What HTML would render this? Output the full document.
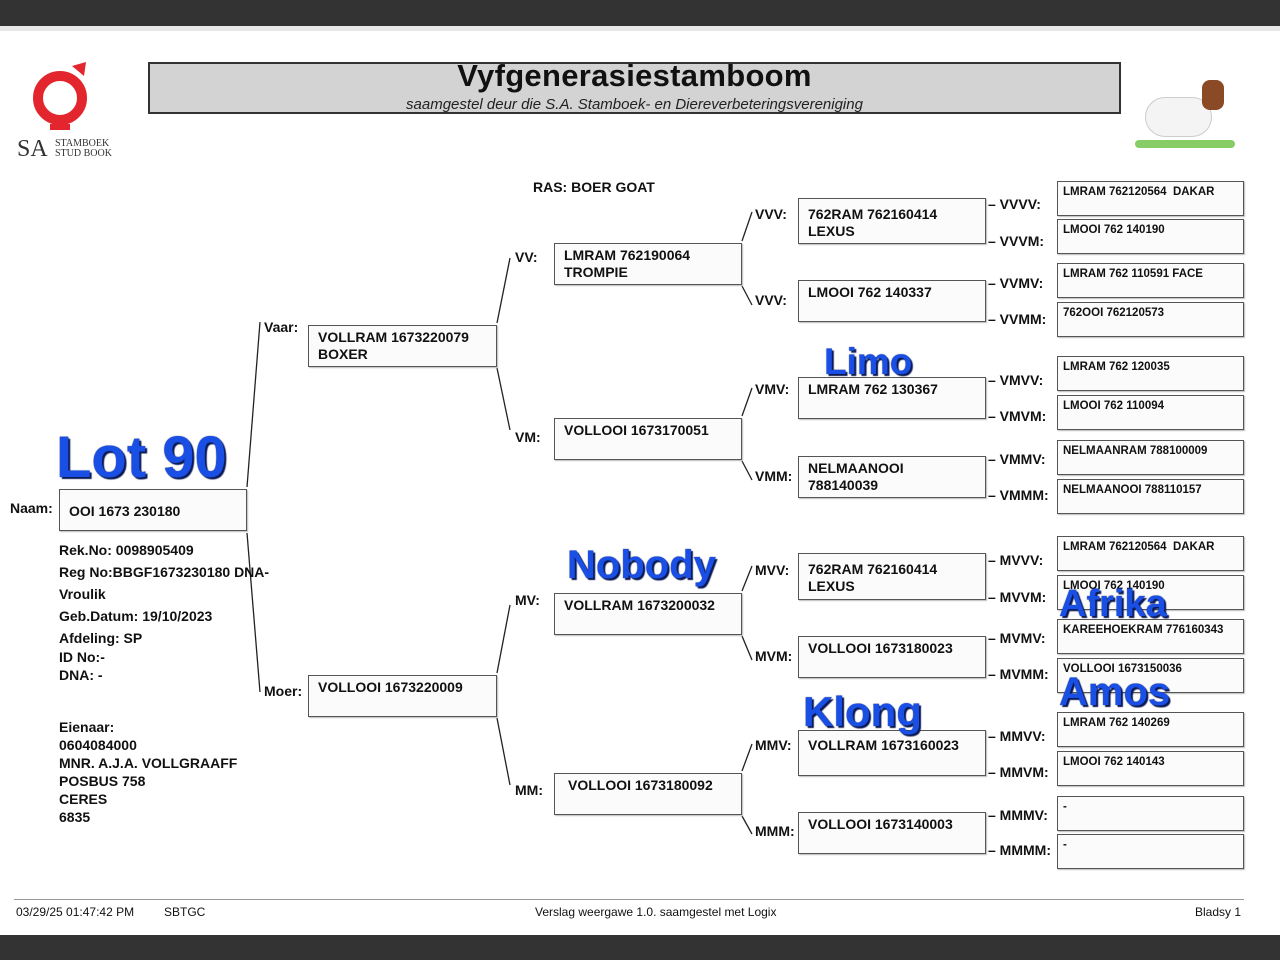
<!DOCTYPE html>
<html><head><meta charset="utf-8"><style>
body{margin:0;width:1280px;height:960px;background:#fff;position:relative;overflow:hidden;font-family:"Liberation Sans",Arial,sans-serif;color:#111}
div,span{position:absolute}
.b{border:1px solid #555;background:#fbfbfb;box-sizing:border-box;font-weight:bold;font-size:14px;line-height:17px;padding:3px 9px;box-shadow:1px 1px 1px #bbb}
.s{font-size:11.5px;line-height:14px;padding:3px 5px}
.l{font-weight:bold;font-size:14px;white-space:nowrap}
.t{font-weight:bold;font-size:14px;line-height:22px;white-space:nowrap}
.o{color:#1a4fe6;font-weight:bold;text-shadow:2px 2px 1px #0b1a55,0 0 1px #0b1a55;white-space:nowrap}
</style></head><body>
<div style="left:0;top:0;width:1280px;height:26px;background:#333"></div>
<div style="left:0;top:26px;width:1280px;height:5px;background:#e8e8e8"></div>
<div style="left:0;top:935px;width:1280px;height:25px;background:#333"></div>

<svg style="position:absolute;left:0;top:0" width="1280" height="960">
<g fill="#e3262d"><circle cx="60" cy="98" r="22" fill="none" stroke="#e3262d" stroke-width="10"/><rect x="55" y="118" width="10" height="12"/><rect x="50" y="124" width="20" height="6"/><polygon points="72,66 86,62 84,76"/></g>
<g stroke="#222" stroke-width="1.3">
<line x1="247" y1="487" x2="260" y2="322"/><line x1="247" y1="533" x2="260" y2="692"/>
<line x1="497" y1="323" x2="510" y2="258"/><line x1="497" y1="368" x2="510" y2="430"/>
<line x1="497" y1="673" x2="510" y2="605"/><line x1="497" y1="718" x2="510" y2="785"/>
<line x1="742" y1="241" x2="752" y2="212"/><line x1="742" y1="286" x2="752" y2="305"/>
<line x1="742" y1="416" x2="752" y2="388"/><line x1="742" y1="461" x2="752" y2="480"/>
<line x1="742" y1="591" x2="752" y2="566"/><line x1="742" y1="636" x2="752" y2="660"/>
<line x1="742" y1="771" x2="752" y2="744"/><line x1="742" y1="816" x2="752" y2="834"/>
</g></svg>
<div style="left:17px;top:136px;font-family:'Liberation Serif',serif;font-size:24px;color:#333">SA</div>
<div style="left:55px;top:139px;font-family:'Liberation Serif',serif;font-size:10px;line-height:10px;color:#333">STAMBOEK<br>STUD BOOK</div>

<div style="left:148px;top:62px;width:973px;height:52px;background:#d3d3d3;border:2px solid #333;box-sizing:border-box"></div>
<div style="left:148px;top:58px;width:973px;text-align:center;font-size:31px;font-weight:bold;letter-spacing:0.3px">Vyfgenerasiestamboom</div>
<div style="left:148px;top:96px;width:973px;text-align:center;font-size:15px;font-style:italic;color:#222">saamgestel deur die S.A. Stamboek- en Diereverbeteringsvereniging</div>
<div style="left:1130px;top:72px;width:110px;height:80px">
<div style="left:15px;top:25px;width:65px;height:38px;background:#f4f4f4;border-radius:20px;border:1px solid #ccc"></div>
<div style="left:72px;top:8px;width:22px;height:30px;background:#8a4a25;border-radius:8px"></div>
<div style="left:5px;top:68px;width:100px;height:8px;background:#8c6;border-radius:4px"></div></div>

<div class="l" style="left:533px;top:179px">RAS: BOER GOAT</div>

<div class="l" style="left:10px;top:500px">Naam:</div>
<div class="b" style="left:59px;top:489px;width:188px;height:42px;padding-top:13px">OOI 1673 230180</div>
<div class="t" style="left:59px;top:539px">Rek.No: 0098905409<br>Reg No:BBGF1673230180 DNA-<br>Vroulik<br>Geb.Datum: 19/10/2023<br>Afdeling: SP</div>
<div class="t" style="left:59px;top:648px;line-height:18px">ID No:-<br>DNA: -</div>
<div class="t" style="left:59px;top:718px;line-height:18px">Eienaar:<br>0604084000<br>MNR. A.J.A. VOLLGRAAFF<br>POSBUS 758<br>CERES<br>6835</div>

<div class="l" style="left:264px;top:319px">Vaar:</div>
<div class="b" style="left:308px;top:325px;width:189px;height:42px">VOLLRAM 1673220079<br>BOXER</div>
<div class="l" style="left:264px;top:683px">Moer:</div>
<div class="b" style="left:308px;top:675px;width:189px;height:42px">VOLLOOI 1673220009</div>

<div class="l" style="left:515px;top:249px">VV:</div>
<div class="b" style="left:554px;top:243px;width:188px;height:42px">LMRAM 762190064<br>TROMPIE</div>
<div class="l" style="left:515px;top:429px">VM:</div>
<div class="b" style="left:554px;top:418px;width:188px;height:42px">VOLLOOI 1673170051</div>
<div class="l" style="left:515px;top:592px">MV:</div>
<div class="b" style="left:554px;top:593px;width:188px;height:42px">VOLLRAM 1673200032</div>
<div class="l" style="left:515px;top:782px">MM:</div>
<div class="b" style="left:554px;top:773px;width:188px;height:42px;padding-left:13px">VOLLOOI 1673180092</div>

<div class="l" style="left:755px;top:206px">VVV:</div>
<div class="b" style="left:798px;top:198px;width:188px;height:46px;padding-top:7px">762RAM 762160414<br>LEXUS</div>
<div class="l" style="left:755px;top:292px">VVV:</div>
<div class="b" style="left:798px;top:280px;width:188px;height:42px">LMOOI 762 140337</div>
<div class="l" style="left:755px;top:381px">VMV:</div>
<div class="b" style="left:798px;top:377px;width:188px;height:42px">LMRAM 762 130367</div>
<div class="l" style="left:755px;top:468px">VMM:</div>
<div class="b" style="left:798px;top:456px;width:188px;height:42px">NELMAANOOI<br>788140039</div>
<div class="l" style="left:755px;top:562px">MVV:</div>
<div class="b" style="left:798px;top:553px;width:188px;height:47px;padding-top:7px">762RAM 762160414<br>LEXUS</div>
<div class="l" style="left:755px;top:648px">MVM:</div>
<div class="b" style="left:798px;top:636px;width:188px;height:42px">VOLLOOI 1673180023</div>
<div class="l" style="left:755px;top:737px">MMV:</div>
<div class="b" style="left:798px;top:730px;width:188px;height:46px;padding-top:6px">VOLLRAM 1673160023</div>
<div class="l" style="left:755px;top:823px">MMM:</div>
<div class="b" style="left:798px;top:812px;width:188px;height:42px">VOLLOOI 1673140003</div>

<div class="l" style="left:988px;top:196px">– VVVV:</div>
<div class="l" style="left:988px;top:233px">– VVVM:</div>
<div class="l" style="left:988px;top:275px">– VVMV:</div>
<div class="l" style="left:988px;top:311px">– VVMM:</div>
<div class="l" style="left:988px;top:372px">– VMVV:</div>
<div class="l" style="left:988px;top:408px">– VMVM:</div>
<div class="l" style="left:988px;top:451px">– VMMV:</div>
<div class="l" style="left:988px;top:487px">– VMMM:</div>
<div class="l" style="left:988px;top:552px">– MVVV:</div>
<div class="l" style="left:988px;top:589px">– MVVM:</div>
<div class="l" style="left:988px;top:630px">– MVMV:</div>
<div class="l" style="left:988px;top:666px">– MVMM:</div>
<div class="l" style="left:988px;top:728px">– MMVV:</div>
<div class="l" style="left:988px;top:764px">– MMVM:</div>
<div class="l" style="left:988px;top:807px">– MMMV:</div>
<div class="l" style="left:988px;top:842px">– MMMM:</div>

<div class="b s" style="left:1057px;top:181px;width:187px;height:35px">LMRAM 762120564&nbsp; DAKAR</div>
<div class="b s" style="left:1057px;top:219px;width:187px;height:35px">LMOOI 762 140190</div>
<div class="b s" style="left:1057px;top:263px;width:187px;height:35px">LMRAM 762 110591 FACE</div>
<div class="b s" style="left:1057px;top:302px;width:187px;height:35px">762OOI 762120573</div>
<div class="b s" style="left:1057px;top:356px;width:187px;height:35px">LMRAM 762 120035</div>
<div class="b s" style="left:1057px;top:395px;width:187px;height:35px">LMOOI 762 110094</div>
<div class="b s" style="left:1057px;top:440px;width:187px;height:35px">NELMAANRAM 788100009</div>
<div class="b s" style="left:1057px;top:479px;width:187px;height:35px">NELMAANOOI 788110157</div>
<div class="b s" style="left:1057px;top:536px;width:187px;height:35px">LMRAM 762120564&nbsp; DAKAR</div>
<div class="b s" style="left:1057px;top:575px;width:187px;height:35px">LMOOI 762 140190</div>
<div class="b s" style="left:1057px;top:619px;width:187px;height:35px">KAREEHOEKRAM 776160343</div>
<div class="b s" style="left:1057px;top:658px;width:187px;height:35px">VOLLOOI 1673150036</div>
<div class="b s" style="left:1057px;top:712px;width:187px;height:35px">LMRAM 762 140269</div>
<div class="b s" style="left:1057px;top:751px;width:187px;height:35px">LMOOI 762 140143</div>
<div class="b s" style="left:1057px;top:796px;width:187px;height:35px">-</div>
<div class="b s" style="left:1057px;top:834px;width:187px;height:35px">-</div>

<div class="o" style="left:56px;top:424px;font-size:58px">Lot 90</div>
<div class="o" style="left:824px;top:341px;font-size:37px">Limo</div>
<div class="o" style="left:567px;top:543px;font-size:40px">Nobody</div>
<div class="o" style="left:1059px;top:583px;font-size:38px">Afrika</div>
<div class="o" style="left:803px;top:688px;font-size:42px">Klong</div>
<div class="o" style="left:1059px;top:670px;font-size:40px">Amos</div>

<div style="left:14px;top:899px;width:1230px;border-top:1px solid #999"></div>
<div style="left:16px;top:905px;font-size:12px">03/29/25 01:47:42 PM</div>
<div style="left:164px;top:905px;font-size:12px">SBTGC</div>
<div style="left:535px;top:905px;font-size:12px">Verslag weergawe 1.0. saamgestel met Logix</div>
<div style="left:1195px;top:905px;font-size:12px">Bladsy 1</div>
</body></html>
